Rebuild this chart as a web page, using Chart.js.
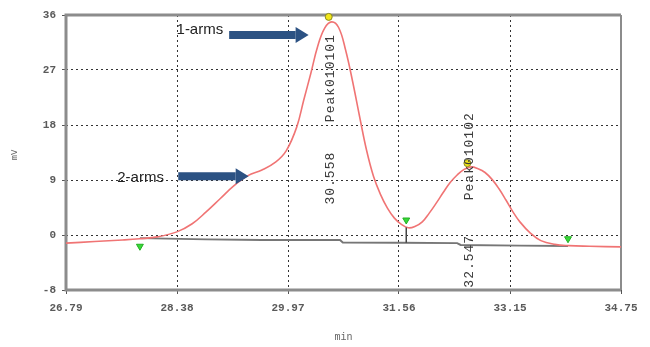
<!DOCTYPE html>
<html>
<head>
<meta charset="utf-8">
<script src="https://cdn.jsdelivr.net/npm/chart.js@4.4.0/dist/chart.umd.min.js"></script>
<style>
html, body { margin: 0; padding: 0; background: #fff; }
#wrap { width: 650px; height: 347px; position: relative; }
</style>
</head>
<body>
<div id="wrap"><canvas id="chromChart" width="650" height="347"></canvas></div>
<script>
// Eixos (o software usa passo de 1/5 da faixa, rótulo truncado)
const xTicks = [26.79, 28.382, 29.974, 31.566, 33.158, 34.75];
const xTickLabels = ['26.79', '28.38', '29.97', '31.56', '33.15', '34.75'];
const yTicks = [-8, 0.8, 9.6, 18.4, 27.2, 36];
const yTickLabels = ['-8', '0', '9', '18', '27', '36'];

// Sinal do detector (min, mV)
const signalTime = [26.79, 27.2, 27.6, 27.85, 28.1, 28.38, 28.6, 28.8, 29.0, 29.2, 29.4, 29.6, 29.8, 29.95,
    30.1, 30.2, 30.3, 30.4, 30.5, 30.6, 30.7, 30.8, 30.9, 31.0, 31.1, 31.2, 31.3, 31.4, 31.5, 31.6,
    31.7, 31.8, 31.9, 32.0, 32.1, 32.2, 32.3, 32.4, 32.5, 32.6, 32.7, 32.8, 32.9, 33.0, 33.1, 33.2,
    33.3, 33.45, 33.6, 33.8, 34.0, 34.3, 34.75];
const signalMv = [-0.5, -0.25, 0.0, 0.2, 0.5, 1.3, 2.6, 4.5, 6.6, 8.7, 10.3, 11.2, 12.5, 14.3,
    18.1, 22.4, 26.6, 31.0, 33.9, 34.9, 34.0, 30.4, 25.4, 19.8, 14.4, 10.2, 7.3, 5.1, 3.5, 2.5,
    1.95, 2.2, 2.9, 4.3, 5.9, 7.6, 9.2, 10.4, 11.3, 11.7, 11.4, 10.8, 9.7, 8.2, 6.4, 4.5,
    2.9, 1.1, -0.1, -0.7, -0.9, -1.0, -1.1];

// Linha de base da integração
const baseTime = [27.85, 28.8, 29.6, 30.72, 30.76, 31.6, 32.4, 32.45, 33.3, 33.99];
const baseMv = [0.3, 0.1, 0.0, 0.0, -0.4, -0.45, -0.5, -0.8, -0.9, -0.95];

// Picos e limites de integração
const peakNames = ['Peak010101', 'Peak010102'];
const peakTimes = [30.558, 32.547];
const peakMarkMv = [35.7, 12.3];
const limitTime = [27.85, 31.67, 33.99];
const limitMv = [-1.0, 3.2, 0.2];
const dropMv = [2.0, -0.45];

// Anotações (posições em unidades do gráfico)
const notes = [
    { text: '1-arms', tx: 28.71, ty: 33.6, x1: 29.13, x2: 30.27, y: 32.8 },
    { text: '2-arms', tx: 27.86, ty: 10.0, x1: 28.40, x2: 29.41, y: 10.2 }
];
const peakLabelMv = [25.9, 13.4];
const peakTimeLabelMv = [9.9, -3.4];

const toPoints = (xs, ys) => xs.map((x, i) => ({ x: x, y: ys[i] }));
const monoFont = '"Liberation Mono", "DejaVu Sans Mono", monospace';

// Moldura da área do gráfico
const framePlugin = {
    id: 'frame',
    beforeDatasetsDraw(chart) {
        const { ctx, chartArea: a } = chart;
        ctx.save();
        ctx.strokeStyle = '#8c8c8c';
        ctx.lineWidth = 3;
        ctx.beginPath();
        ctx.moveTo(a.right, a.top);
        ctx.lineTo(a.left, a.top);
        ctx.lineTo(a.left, a.bottom);
        ctx.lineTo(a.right, a.bottom);
        ctx.stroke();
        ctx.lineWidth = 2;
        ctx.beginPath();
        ctx.moveTo(a.right, a.top);
        ctx.lineTo(a.right, a.bottom);
        ctx.stroke();
        ctx.restore();
    }
};

function drawArrow(ctx, x1, x2, y) {
    const head = 13;
    ctx.fillStyle = '#2c5283';
    ctx.fillRect(x1, y - 4, x2 - x1 - head, 8);
    ctx.beginPath();
    ctx.moveTo(x2 - head, y - 8);
    ctx.lineTo(x2, y);
    ctx.lineTo(x2 - head, y + 8);
    ctx.closePath();
    ctx.fill();
}

function drawVertical(ctx, text, x, y) {
    ctx.save();
    ctx.translate(x, y);
    ctx.rotate(-Math.PI / 2);
    ctx.fillText(text, 0, 0);
    ctx.restore();
}

// Textos: setas, nomes dos picos, títulos dos eixos
const notesPlugin = {
    id: 'notes',
    afterDatasetsDraw(chart) {
        const { ctx, scales: { x, y }, chartArea: a } = chart;
        ctx.save();

        notes.forEach(n => {
            ctx.font = '15px "Liberation Sans", Arial, sans-serif';
            ctx.fillStyle = '#222';
            ctx.textAlign = 'center';
            ctx.textBaseline = 'middle';
            ctx.fillText(n.text, x.getPixelForValue(n.tx), y.getPixelForValue(n.ty));
            drawArrow(ctx, x.getPixelForValue(n.x1), x.getPixelForValue(n.x2), y.getPixelForValue(n.y));
        });

        ctx.font = '13px ' + monoFont;
        ctx.letterSpacing = '1px';
        ctx.fillStyle = '#3a3a3a';
        ctx.textAlign = 'center';
        ctx.textBaseline = 'middle';
        peakNames.forEach((name, i) => {
            const px = x.getPixelForValue(peakTimes[i]) + 2;
            drawVertical(ctx, name, px, y.getPixelForValue(peakLabelMv[i]));
            drawVertical(ctx, peakTimes[i].toFixed(3), px, y.getPixelForValue(peakTimeLabelMv[i]));
        });
        ctx.letterSpacing = '0px';

        ctx.fillStyle = '#666';
        ctx.font = '10px ' + monoFont;
        ctx.fillText('min', (a.left + a.right) / 2, 337);
        ctx.font = '9px ' + monoFont;
        drawVertical(ctx, 'mV', 15, 155);
        ctx.restore();
    }
};

function initChromChart() {
    const el = document.getElementById('chromChart');
    if (!el) return;

    new Chart(el.getContext('2d'), {
        type: 'line',
        data: {
            datasets: [{
                // marcadores de início/fim (verde)
                data: toPoints(limitTime, limitMv),
                showLine: false,
                pointStyle: 'triangle',
                pointRotation: 180,
                pointRadius: 4,
                pointBackgroundColor: '#39d839',
                pointBorderColor: '#22b022',
                clip: false
            }, {
                // marcadores de ápice (amarelo)
                data: toPoints(peakTimes, peakMarkMv),
                showLine: false,
                pointStyle: 'circle',
                pointRadius: 3.5,
                pointBackgroundColor: '#f2e61a',
                pointBorderColor: '#8a8a20',
                pointBorderWidth: 1,
                clip: false
            }, {
                // linha de queda no vale
                data: toPoints([limitTime[1], limitTime[1]], dropMv),
                borderColor: '#444',
                borderWidth: 1.5,
                pointRadius: 0
            }, {
                data: toPoints(signalTime, signalMv),
                borderColor: '#f07474',
                borderWidth: 1.6,
                pointRadius: 0,
                tension: 0.4
            }, {
                data: toPoints(baseTime, baseMv),
                borderColor: '#767676',
                borderWidth: 2,
                pointRadius: 0,
                tension: 0
            }]
        },
        options: {
            responsive: false,
            animation: false,
            events: [],
            layout: {
                padding: { left: 0, right: 29, top: 15, bottom: 0 }
            },
            plugins: {
                legend: { display: false },
                tooltip: { enabled: false }
            },
            scales: {
                x: {
                    type: 'linear',
                    min: xTicks[0],
                    max: xTicks[xTicks.length - 1],
                    afterBuildTicks: s => { s.ticks = xTicks.map(v => ({ value: v })); },
                    afterFit: s => { s.height = 57; },
                    ticks: {
                        callback: (v, i) => xTickLabels[i],
                        autoSkip: false,
                        maxRotation: 0,
                        padding: 8,
                        color: '#5a5a5a',
                        font: { family: monoFont, size: 11, weight: 'bold' }
                    },
                    grid: {
                        color: '#333',
                        lineWidth: 1,
                        tickLength: 4,
                        tickColor: '#555'
                    },
                    border: { display: false, dash: [2, 3] }
                },
                y: {
                    type: 'linear',
                    min: yTicks[0],
                    max: yTicks[yTicks.length - 1],
                    afterBuildTicks: s => { s.ticks = yTicks.map(v => ({ value: v })); },
                    afterFit: s => { s.width = 66; },
                    ticks: {
                        callback: (v, i) => yTickLabels[i],
                        autoSkip: false,
                        padding: 6,
                        color: '#5a5a5a',
                        font: { family: monoFont, size: 11, weight: 'bold' }
                    },
                    grid: {
                        color: '#333',
                        lineWidth: 1,
                        tickLength: 4,
                        tickColor: '#555'
                    },
                    border: { display: false, dash: [2, 3] }
                }
            }
        },
        plugins: [framePlugin, notesPlugin]
    });
}

document.addEventListener('DOMContentLoaded', initChromChart);
</script>
</body>
</html>
